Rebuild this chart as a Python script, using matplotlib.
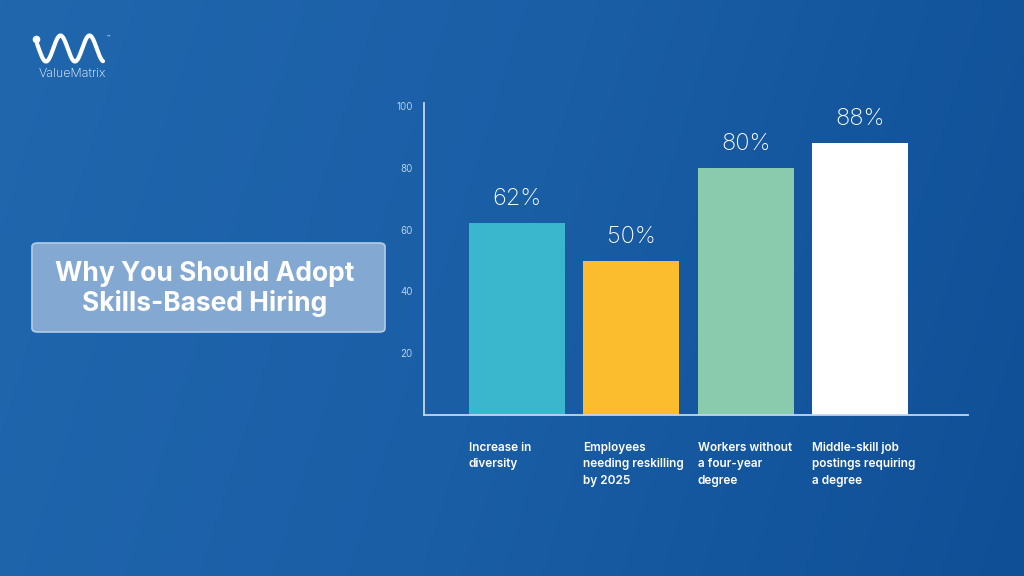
import numpy as np
import matplotlib
matplotlib.use("Agg")
import matplotlib.pyplot as plt
from matplotlib.colors import LinearSegmentedColormap
from matplotlib.patches import FancyBboxPatch

categories = ["Increase in\ndiversity",
              "Employees\nneeding reskilling\nby 2025",
              "Workers without\na four-year\ndegree",
              "Middle-skill job\npostings requiring\na degree"]
values = [62, 50, 80, 88]
bar_colors = ["#3ab6cd", "#fbbd2e", "#8bcbad", "#ffffff"]
yticks = [20, 40, 60, 80, 100]

plt.rcParams['font.family'] = ['Inter', 'DejaVu Sans']

W, H = 1024, 576
fig = plt.figure(figsize=(W / 100, H / 100), dpi=100)

# background gradient
bg = fig.add_axes([0, 0, 1, 1], zorder=0)
cmap = LinearSegmentedColormap.from_list("bg", ["#2067ae", "#1a5ea6", "#0f4f96"])
gx = np.linspace(0, 1, 256)
gy = np.linspace(0, 1, 256)
grad = np.add.outer(gy * 0.15, gx * 0.85)
bg.imshow(grad, cmap=cmap, aspect="auto", extent=[0, 1, 0, 1], origin="upper",
          interpolation="bilinear")
bg.set_xlim(0, 1)
bg.set_ylim(0, 1)
bg.axis("off")

# logo (pixel coords -> figure fraction)
px = np.linspace(37, 103, 300)
py = 48.5 + 13 * np.cos(2 * np.pi * (px - 46) / 29)
bg.plot(px / W, 1 - py / H, color="white", lw=3.0, solid_capstyle="round")
bg.plot(36 / W, 1 - 39 / H, "o", color="white", ms=4.5)
bg.text(108 / W, 1 - 37 / H, "™", color="white", fontsize=4, ha="center", va="center")
bg.text(72 / W, 1 - 74 / H, "ValueMatrix", color="white", fontsize=9, ha="center",
        va="center", fontweight="light")

# title box
box = FancyBboxPatch((32 / W, 1 - 332 / H), 353 / W, 89 / H,
                     boxstyle="round,pad=0,rounding_size=0.006",
                     facecolor="#83a8d1", edgecolor="#b5cde6", lw=1.2,
                     transform=bg.transAxes, zorder=2)
bg.add_patch(box)
bg.text(205 / W, 1 - 289 / H, "Why You Should Adopt\nSkills-Based Hiring",
        color="white", fontsize=19, fontweight="bold", ha="center", va="center",
        linespacing=1.15, zorder=3)

# chart
ax = fig.add_axes([424 / W, 1 - 415 / H, 544 / W, 312 / H], zorder=1)
ax.patch.set_alpha(0)
x = np.arange(len(values))
bars = ax.bar(x, values, width=0.84, color=bar_colors, zorder=2)
ax.set_xlim(-0.81, 3.94)
ax.set_ylim(0, 101)
for b, v in zip(bars, values):
    ax.annotate(f"{v}%", (b.get_x() + b.get_width() / 2, v),
                xytext=(0, 24), textcoords="offset pixels",
                ha="center", va="center", color="white", fontsize=17, fontweight="light")
ax.set_yticks(yticks)
ax.set_yticklabels([str(v) for v in yticks])
ax.tick_params(axis="y", length=0, pad=8, labelsize=7, labelcolor="#b9cfe8")
ax.set_xticks([])
for s in ["top", "right"]:
    ax.spines[s].set_visible(False)
for s in ["left", "bottom"]:
    ax.spines[s].set_color("#c3d6ee")
    ax.spines[s].set_linewidth(1.3)

for b, lab in zip(bars, categories):
    ax.annotate(lab, (b.get_x(), 0), xytext=(0, -27), textcoords="offset pixels",
                ha="left", va="top", color="white", fontsize=8.5, fontweight="semibold",
                linespacing=1.5)

fig.savefig("out.png", dpi=100)
